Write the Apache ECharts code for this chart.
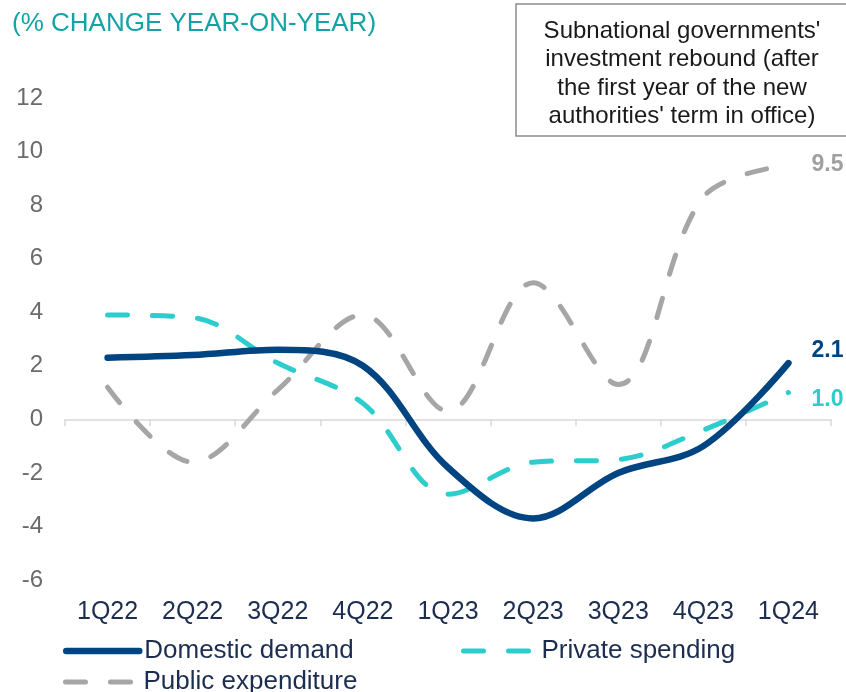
<!DOCTYPE html>
<html>
<head>
<meta charset="utf-8">
<script src="https://cdn.jsdelivr.net/npm/echarts@6/dist/echarts.min.js"></script>
<style>
  html, body { margin: 0; padding: 0; background: #fff; }
  #chart { width: 846px; height: 692px; }
</style>
</head>
<body>
<div id="chart"></div>
<script>
// quarters on the x axis
var quarters = ['1Q22', '2Q22', '3Q22', '4Q22', '1Q23', '2Q23', '3Q23', '4Q23', '1Q24'];

// % change year-on-year
var domesticDemand = [2.3, 2.4, 2.6, 2.0, -1.8, -3.7, -2.0, -1.0, 2.1];
var privateSpending = [3.9, 3.8, 2.1, 0.6, -2.8, -1.6, -1.5, -0.4, 1.0];
var publicExpenditure = [1.2, -1.6, 1.1, 3.9, 0.3, 5.1, 1.3, 8.3, 9.5];

var yTicks = [-6, -4, -2, 0, 2, 4, 6, 8, 10, 12];

var subtitle = '(% CHANGE YEAR-ON-YEAR)';
var noteLines = [
  "Subnational governments'",
  'investment rebound (after',
  'the first year of the new',
  "authorities' term in office)"
];

var FONT = '"Liberation Sans", Arial, sans-serif';
var NAVY = '#004481';
var TEAL = '#2DCCCD';
var GREY = '#A6A6A6';
var TEXT = '#1C2D4F';
var DASH = [20, 25];

var chart = echarts.init(document.getElementById('chart'), null, { renderer: 'canvas' });

function lastLabel(color, dy) {
  return {
    show: true,
    formatter: function (p) { return Number(p.value).toFixed(1); },
    fontFamily: FONT,
    fontSize: 23,
    fontWeight: 'bold',
    color: color,
    distance: 23,
    offset: [0, dy]
  };
}

// one legend per entry so each can sit where the reference has it
function legendBox(name, left, top, width, lineStyle) {
  return {
    data: [name],
    left: left,
    top: top,
    padding: 0,
    itemWidth: width,
    itemHeight: 14,
    itemGap: 0,
    selectedMode: false,
    itemStyle: { opacity: 0, borderWidth: 0 },
    lineStyle: lineStyle,
    textStyle: { fontFamily: FONT, fontSize: 26, color: TEXT }
  };
}

var option = {
  animation: false,
  backgroundColor: '#fff',
  textStyle: { fontFamily: FONT },
  grid: { left: 65, right: 15, top: 98, bottom: 112, containLabel: false },
  legend: [
    legendBox('Domestic demand', 63, 638, 73, { width: 6.5, type: 'solid', cap: 'round' }),
    legendBox('Private spending', 461, 638, 73, { width: 5, type: DASH, cap: 'round' }),
    legendBox('Public expenditure', 63, 669, 73, { width: 5, type: DASH, cap: 'round' })
  ],
  xAxis: [
    {
      type: 'category',
      data: quarters,
      position: 'bottom',
      boundaryGap: true,
      axisLine: { show: true, onZero: true, lineStyle: { color: '#D9D9D9', width: 1.5 } },
      axisTick: { show: true, length: 7, alignWithLabel: false, lineStyle: { color: '#D9D9D9', width: 1.5 } },
      axisLabel: { show: false },
      splitLine: { show: false }
    },
    {
      type: 'category',
      data: quarters,
      position: 'bottom',
      boundaryGap: true,
      axisLine: { show: false, onZero: false },
      axisTick: { show: false },
      axisLabel: { show: true, margin: 20, fontFamily: FONT, fontSize: 25, color: TEXT },
      splitLine: { show: false }
    }
  ],
  yAxis: {
    type: 'value',
    min: yTicks[0],
    max: yTicks[yTicks.length - 1],
    interval: 2,
    axisLine: { show: false },
    axisTick: { show: false },
    splitLine: { show: false },
    axisLabel: { margin: 22, fontFamily: FONT, fontSize: 24, color: '#6B6B6B' }
  },
  series: [
    {
      name: 'Public expenditure',
      type: 'line',
      data: publicExpenditure,
      smooth: 0.35,
      symbol: 'none',
      showSymbol: false,
      z: 2,
      lineStyle: { color: GREY, width: 5, type: DASH, cap: 'round' },
      itemStyle: { color: GREY },
      endLabel: lastLabel('#A0A0A0', 0)
    },
    {
      name: 'Private spending',
      type: 'line',
      data: privateSpending,
      smooth: 0.35,
      symbol: 'none',
      showSymbol: false,
      z: 3,
      lineStyle: { color: TEAL, width: 5, type: DASH, cap: 'round' },
      itemStyle: { color: TEAL },
      endLabel: lastLabel(TEAL, 7)
    },
    {
      name: 'Domestic demand',
      type: 'line',
      data: domesticDemand,
      smooth: 0.35,
      symbol: 'none',
      showSymbol: false,
      z: 4,
      lineStyle: { color: NAVY, width: 6.5, cap: 'round' },
      itemStyle: { color: NAVY },
      endLabel: lastLabel(NAVY, -12)
    }
  ],
  graphic: [
    {
      type: 'text',
      left: 12,
      top: 11,
      style: { text: subtitle, fontFamily: FONT, fontSize: 26, fill: '#14A3A5' }
    },
    {
      type: 'rect',
      z: 10,
      shape: { x: 516, y: 4, width: 360, height: 132 },
      style: { fill: '#fff', stroke: '#8C8C8C', lineWidth: 1.5 }
    },
    {
      type: 'text',
      z: 11,
      x: 682,
      y: 74,
      style: {
        text: noteLines.join('\n'),
        fontFamily: FONT,
        fontSize: 24,
        lineHeight: 28.5,
        fill: '#1A1A1A',
        align: 'center',
        verticalAlign: 'middle'
      }
    }
  ]
};

chart.setOption(option);
</script>
</body>
</html>
